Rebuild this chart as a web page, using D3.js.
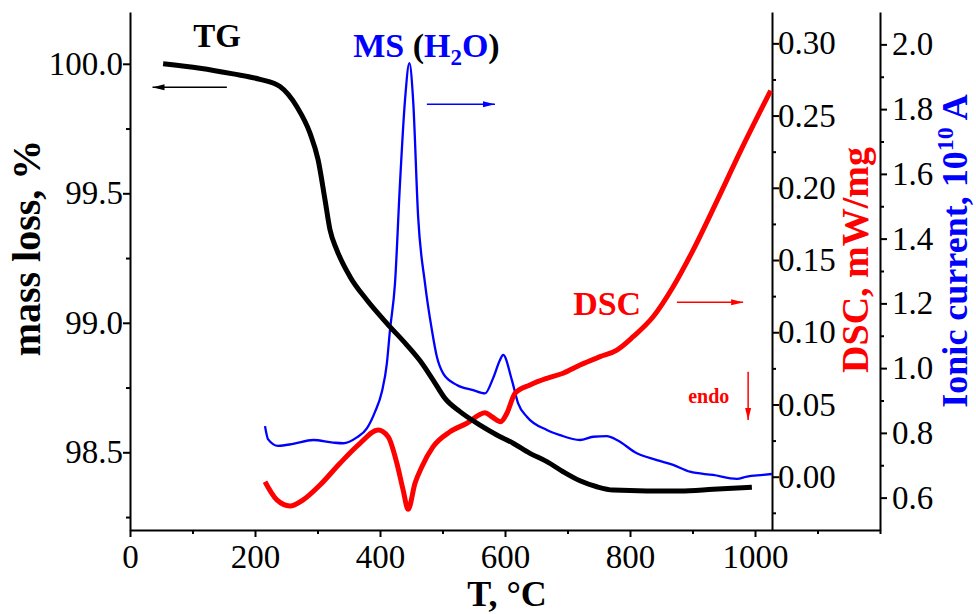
<!DOCTYPE html>
<html>
<head>
<meta charset="utf-8">
<script src="https://cdn.jsdelivr.net/npm/d3@7/dist/d3.min.js"></script>
<style>
  html, body { margin: 0; padding: 0; background: #fff; }
  svg { display: block; }
</style>
</head>
<body>
<svg id="chart" width="976" height="614"></svg>
<script>
// Thermogravimetry (TG), DSC and mass-spectrometry (H2O, m/z 18) curves vs temperature

// TG: temperature, °C and residual mass, %
const tgTemp = [53, 112, 165, 208, 240, 267, 288, 301, 312, 320, 331, 352, 379, 411, 443, 467,
  485, 504, 528, 560, 587, 613, 640, 667, 693, 720, 747, 773, 827, 880, 933, 995];
const tgMass = [100.0, 99.983, 99.961, 99.940, 99.912, 99.834, 99.732, 99.629, 99.475, 99.359,
  99.281, 99.178, 99.088, 98.998, 98.914, 98.844, 98.779, 98.708, 98.657, 98.605, 98.567,
  98.535, 98.496, 98.464, 98.425, 98.390, 98.367, 98.354, 98.351, 98.351, 98.357, 98.365];

// DSC: temperature, °C and heat flow, mW/mg
const dscTemp = [216, 235, 256, 277, 304, 336, 368, 397, 413, 427, 437, 445, 456, 467, 485, 512,
  539, 568, 579, 593, 603, 616, 640, 667, 693, 720, 752, 779, 805, 837, 869, 901, 939, 976, 1025];
const dscValue = [-0.0035, -0.0161, -0.0203, -0.0161, -0.0058, 0.0093, 0.0231, 0.0323, 0.0277,
  0.0093, -0.0092, -0.0226, -0.0046, 0.0069, 0.0208, 0.0311, 0.0370, 0.0443, 0.0415, 0.0381,
  0.0439, 0.0577, 0.0635, 0.0681, 0.0716, 0.0773, 0.0831, 0.0877, 0.0969, 0.1107, 0.1315,
  0.1569, 0.1908, 0.2247, 0.2672];

// MS (H2O): temperature, °C and ionic current
const msTemp = [216, 221, 237, 261, 293, 325, 341, 363, 379, 392, 403, 411, 416, 424, 432, 440,
  447, 453, 461, 472, 483, 491, 501, 523, 549, 568, 581, 592, 597, 611, 621, 635, 667, 688, 720,
  741, 763, 779, 811, 843, 869, 896, 933, 971, 987, 1013, 1027];
const msValue = [0.821, 0.780, 0.760, 0.766, 0.778, 0.770, 0.768, 0.786, 0.814, 0.865, 0.927,
  1.015, 1.118, 1.262, 1.571, 1.828, 1.942, 1.828, 1.468, 1.262, 1.118, 1.035, 0.984, 0.948,
  0.932, 0.922, 0.969, 1.025, 1.041, 0.963, 0.891, 0.850, 0.809, 0.793, 0.778, 0.788, 0.790,
  0.778, 0.737, 0.716, 0.701, 0.680, 0.670, 0.658, 0.665, 0.670, 0.673];

// Tick values
const tempTicks = [0, 200, 400, 600, 800, 1000];
const tempMinor = [100, 300, 500, 700, 900, 1100, 1200];
const massTicks = [98.5, 99.0, 99.5, 100.0];
const massMinor = [98.25, 98.75, 99.25, 99.75];
const dscTicks = [0.00, 0.05, 0.10, 0.15, 0.20, 0.25, 0.30];
const dscMinor = [-0.025, 0.025, 0.075, 0.125, 0.175, 0.225, 0.275];
const ionTicks = [0.6, 0.8, 1.0, 1.2, 1.4, 1.6, 1.8, 2.0];
const ionMinor = [0.7, 0.9, 1.1, 1.3, 1.5, 1.7, 1.9];

const svg = d3.select("#chart");
const FONT = "'Liberation Serif', 'Times New Roman', serif";

// plot frame
const frameLeft = 130, frameRight = 880, frameTop = 12, frameBottom = 530;
const dscAxisX = 772;

const x = d3.scaleLinear().domain([0, 1200]).range([frameLeft, frameRight]);
const yMass = d3.scaleLinear().domain([98.2, 100.2]).range([frameBottom, frameTop]);
const yDsc = d3.scaleLinear().domain([-0.0369, 0.3217]).range([frameBottom, frameTop]);
const yIon = d3.scaleLinear().domain([0.5, 2.1]).range([frameBottom, frameTop]);

function styleAxis(g, size) {
  g.attr("font-family", FONT).attr("font-size", size);
  g.selectAll("path.domain").attr("stroke", "#000").attr("stroke-width", 2);
  g.selectAll(".tick line").attr("stroke", "#000").attr("stroke-width", 2);
  g.selectAll(".tick text").attr("fill", "#000");
}

function drawAxis(axisFn, scale, major, minor, fmt, pad, transform) {
  const gMinor = svg.append("g").attr("transform", transform)
    .call(axisFn(scale).tickValues(minor).tickSize(4).tickSizeOuter(0).tickFormat(""));
  styleAxis(gMinor, 33);
  gMinor.select("path.domain").remove();
  const gMajor = svg.append("g").attr("transform", transform)
    .call(axisFn(scale).tickValues(major).tickSize(7).tickSizeOuter(0)
      .tickPadding(pad).tickFormat(fmt));
  styleAxis(gMajor, 33);
  return gMajor;
}

drawAxis(d3.axisBottom, x, tempTicks, tempMinor, d3.format("d"), 8,
  `translate(0,${frameBottom})`);
drawAxis(d3.axisLeft, yMass, massTicks, massMinor, d3.format(".1f"), 0,
  `translate(${frameLeft},0)`);
drawAxis(d3.axisRight, yDsc, dscTicks, dscMinor, d3.format(".2f"), -1,
  `translate(${dscAxisX},0)`);
drawAxis(d3.axisRight, yIon, ionTicks, ionMinor, d3.format(".1f"), 5,
  `translate(${frameRight},0)`);

// curves
const curve = d3.curveMonotoneX;
function series(temps, vals) { return temps.map((t, i) => [t, vals[i]]); }

svg.append("path")
  .datum(series(msTemp, msValue))
  .attr("fill", "none").attr("stroke", "#0000ff").attr("stroke-width", 2.3)
  .attr("stroke-linejoin", "round")
  .attr("d", d3.line().x(d => x(d[0])).y(d => yIon(d[1])).curve(curve));

svg.append("path")
  .datum(series(dscTemp, dscValue))
  .attr("fill", "none").attr("stroke", "#ff0000").attr("stroke-width", 5)
  .attr("stroke-linejoin", "round")
  .attr("d", d3.line().x(d => x(d[0])).y(d => yDsc(d[1])).curve(curve));

svg.append("path")
  .datum(series(tgTemp, tgMass))
  .attr("fill", "none").attr("stroke", "#000").attr("stroke-width", 5)
  .attr("stroke-linejoin", "round")
  .attr("d", d3.line().x(d => x(d[0])).y(d => yMass(d[1])).curve(curve));

// arrow heads
const defs = svg.append("defs");
[["black", "#000"], ["blue", "#0000ff"], ["red", "#ff0000"]].forEach(([id, c]) => {
  defs.append("marker").attr("id", "head-" + id)
    .attr("markerUnits", "userSpaceOnUse")
    .attr("viewBox", "0 0 12 8").attr("refX", 12).attr("refY", 4)
    .attr("markerWidth", 12).attr("markerHeight", 8).attr("orient", "auto")
    .append("path").attr("d", "M0,1 L12,4 L0,7 Z").attr("fill", c);
});

function arrow(x1, y1, x2, y2, id, color) {
  svg.append("line").attr("x1", x1).attr("y1", y1).attr("x2", x2).attr("y2", y2)
    .attr("stroke", color).attr("stroke-width", 1.5)
    .attr("marker-end", `url(#head-${id})`);
}
arrow(x(155), yMass(99.909), x(36), yMass(99.909), "black", "#000");
arrow(x(475), yIon(1.815), x(584), yIon(1.815), "blue", "#0000ff");
arrow(x(875), yDsc(0.1207), x(981), yDsc(0.1207), "red", "#ff0000");
arrow(x(989), yDsc(0.0727), x(989), yDsc(0.0392), "red", "#ff0000");

// curve labels
function label(px, py, txt, size, color) {
  return svg.append("text").attr("x", px).attr("y", py)
    .attr("font-family", FONT).attr("font-weight", "bold")
    .attr("font-size", size).attr("fill", color).text(txt);
}
label(x(101), yMass(100.066), "TG", 33, "#000");
label(x(709), yDsc(0.112), "DSC", 34, "#ff0000");
label(x(893), yDsc(0.051), "endo", 20, "#ff0000");

const ms = svg.append("text").attr("x", x(357)).attr("y", yIon(1.961))
  .attr("font-family", FONT).attr("font-weight", "bold").attr("font-size", 34);
ms.append("tspan").attr("fill", "#0000ff").text("MS ");
ms.append("tspan").attr("fill", "#000").text("(");
ms.append("tspan").attr("fill", "#0000ff").text("H");
ms.append("tspan").attr("fill", "#0000ff").attr("font-size", 23).attr("dy", 8).text("2");
ms.append("tspan").attr("fill", "#0000ff").attr("dy", -8).text("O");
ms.append("tspan").attr("fill", "#000").text(")");

// axis titles
svg.append("text").attr("transform", "translate(40,248) rotate(-90)")
  .attr("text-anchor", "middle").attr("font-family", FONT).attr("font-weight", "bold")
  .attr("font-size", 40).attr("fill", "#000").text("mass loss, %");

svg.append("text").attr("x", 507).attr("y", 606)
  .attr("text-anchor", "middle").attr("font-family", FONT).attr("font-weight", "bold")
  .attr("font-size", 36).attr("fill", "#000").text("T, °C");

svg.append("text").attr("transform", "translate(868,260) rotate(-90)")
  .attr("text-anchor", "middle").attr("font-family", FONT).attr("font-weight", "bold")
  .attr("font-size", 38).attr("fill", "#ff0000").text("DSC, mW/mg");

const ion = svg.append("text").attr("transform", "translate(967,251) rotate(-90)")
  .attr("text-anchor", "middle").attr("font-family", FONT).attr("font-weight", "bold")
  .attr("font-size", 36).attr("fill", "#0000ff");
ion.append("tspan").text("Ionic current, 10");
ion.append("tspan").attr("font-size", 24).attr("dy", -14).text("10");
ion.append("tspan").attr("dy", 14).text(" A");
</script>
</body>
</html>
